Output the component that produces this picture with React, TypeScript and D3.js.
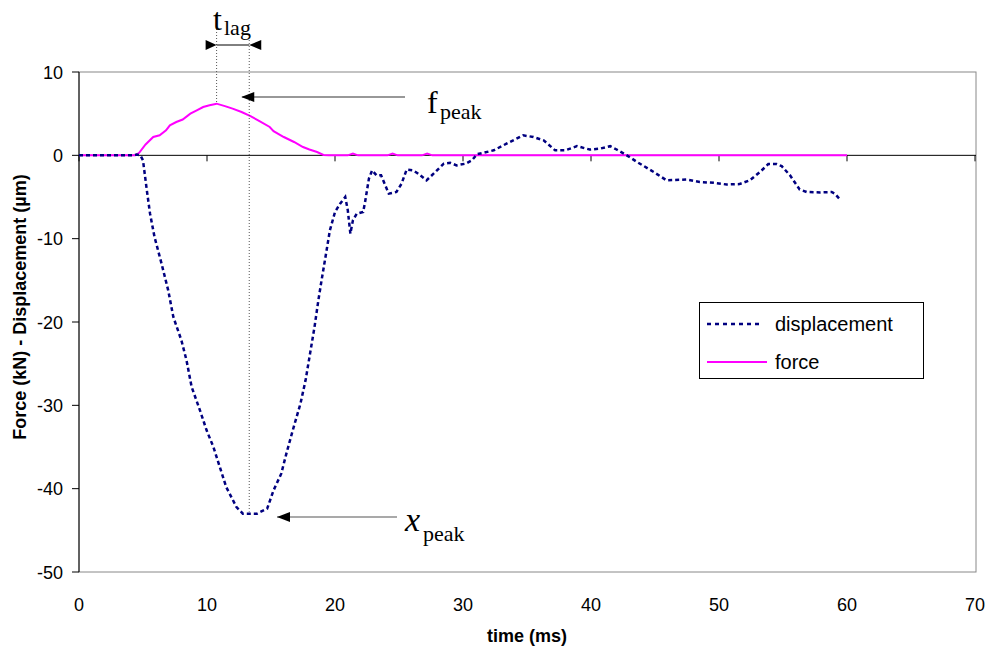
import React from "react";
import * as d3 from "d3";

const xTicks = [0, 10, 20, 30, 40, 50, 60, 70];
const yTicks = [10, 0, -10, -20, -30, -40, -50];

const forceT = [0, 4.4, 4.7, 5.2, 5.8, 6.3, 6.8, 7.1, 7.6, 8.1, 8.7, 9.2, 9.7, 10.2, 10.75, 11.4, 12.0, 12.7, 13.4, 14.1, 14.9, 15.2, 16.0, 16.8, 17.5, 18.0, 18.6, 19.1, 19.5, 21.0, 21.4, 21.8, 24.1, 24.5, 24.9, 26.8, 27.2, 27.6, 60];
const forceV = [0, 0, 0.3, 1.3, 2.2, 2.4, 3.0, 3.6, 4.0, 4.3, 5.0, 5.4, 5.8, 6.0, 6.2, 5.9, 5.6, 5.2, 4.7, 4.1, 3.4, 2.9, 2.2, 1.6, 1.0, 0.7, 0.4, 0.05, 0, 0, 0.2, 0, 0, 0.2, 0, 0, 0.2, 0, 0];

const dispT = [0, 4.2, 4.5, 4.8, 5.0, 5.3, 5.55, 5.9, 6.45, 6.97, 7.37, 8.0, 8.4, 8.8, 9.45, 9.97, 10.5, 11.0, 11.5, 12.3, 12.8, 13.9, 14.7, 15.2, 15.8, 16.2, 16.7, 17.3, 17.7, 18.05, 18.4, 18.7, 18.95, 19.3, 19.6, 20.0, 20.4, 20.8, 21.0, 21.2, 21.4, 21.7, 22.2, 22.35, 22.5, 22.65, 22.9, 23.25, 23.6, 24.2, 24.8, 25.2, 25.6, 26.1, 26.5, 27.15, 27.7, 28.5, 29.0, 29.5, 30.2, 30.7, 31.1, 31.45, 32.4, 33.4, 34.7, 35.5, 36.3, 37.2, 38.0, 38.9, 39.9, 40.7, 41.5, 42.0, 42.8, 43.6, 44.9, 45.9, 47.5, 48.5, 49.6, 50.6, 51.6, 52.4, 53.2, 53.85, 54.5, 54.9, 55.55, 56.3, 56.85, 57.9, 58.8, 59.05, 59.45];
const dispV = [0, 0, 0.1, 0, -0.6, -4.2, -7.0, -9.8, -13.0, -16.2, -19.4, -22.2, -24.6, -27.8, -30.6, -33.0, -35.0, -37.4, -39.8, -42.2, -43.0, -43.0, -42.4, -40.2, -38.2, -35.8, -33.0, -29.8, -27.0, -23.8, -20.6, -17.4, -15.0, -11.8, -9.0, -6.8, -5.8, -5.0, -6.6, -9.4, -7.8, -7.0, -6.8, -5.6, -4.2, -2.8, -1.8, -2.4, -2.4, -4.6, -4.4, -3.4, -1.7, -1.8, -2.2, -3.0, -2.2, -1.0, -0.9, -1.2, -1.0, -0.6, 0.15, 0.25, 0.6, 1.4, 2.4, 2.2, 1.8, 0.6, 0.6, 1.1, 0.7, 0.8, 1.1, 0.7, 0.0, -0.8, -2.0, -3.0, -2.9, -3.2, -3.3, -3.5, -3.45, -3.0, -2.0, -1.05, -1.05, -1.3, -2.4, -4.1, -4.4, -4.45, -4.4, -4.6, -5.3];

const seriesNames = ["displacement", "force"];
const tPeakForce = 10.75;
const tPeakDisp = 13.3;
const fPeak = 6.2;
const xPeak = -43.0;

export default function App() {
  const W = 989, H = 655;
  const x = d3.scaleLinear().domain([0, 70]).range([79, 975]);
  const y = d3.scaleLinear().domain([-50, 10]).range([572, 72]);
  const line = d3.line<[number, number]>().x(d => x(d[0])).y(d => y(d[1]));
  const forceData: [number, number][] = forceT.map((t, i) => [t, forceV[i]]);
  const dispData: [number, number][] = dispT.map((t, i) => [t, dispV[i]]);
  const arial = "Arial, 'Liberation Sans', sans-serif";
  const times = "'Times New Roman', 'Liberation Serif', serif";
  const xf = x(tPeakForce), xd = x(tPeakDisp);
  const yf = y(fPeak), yd = y(xPeak);
  const arrowY = 45;
  return (
    <svg width={W} height={H} style={{ position: "absolute", left: 0, top: 0 }} xmlns="http://www.w3.org/2000/svg">
      <rect x={0} y={0} width={W} height={H} fill="#fff" />
      {/* frame */}
      <rect x={x(0)} y={y(10)} width={x(70) - x(0) + 1} height={y(-50) - y(10)} fill="none" stroke="#888" strokeWidth={1} />
      {/* y axis */}
      <line x1={x(0)} x2={x(0)} y1={y(10)} y2={y(-50)} stroke="#000" strokeWidth={1} />
      {yTicks.map(t => (
        <g key={"y" + t}>
          <line x1={x(0) - 7} x2={x(0)} y1={y(t)} y2={y(t)} stroke="#000" />
          <text x={63} y={y(t) + 6.5} textAnchor="end" fontFamily={arial} fontSize={18}>{t}</text>
        </g>
      ))}
      {/* x axis at zero */}
      <line x1={x(0)} x2={x(70) + 1} y1={y(0)} y2={y(0)} stroke="#000" strokeWidth={1} />
      {xTicks.map(t => (
        <g key={"x" + t}>
          <line x1={x(t)} x2={x(t)} y1={y(0)} y2={y(0) + 6} stroke="#000" />
          <text x={x(t)} y={611} textAnchor="middle" fontFamily={arial} fontSize={18}>{t}</text>
        </g>
      ))}
      <text x={x(35)} y={642} textAnchor="middle" fontFamily={arial} fontSize={18} fontWeight="bold">time (ms)</text>
      <text transform="translate(26,307) rotate(-90)" textAnchor="middle" fontFamily={arial} fontSize={18} fontWeight="bold">Force (kN) - Displacement (µm)</text>

      {/* series */}
      <path d={line(forceData) || ""} fill="none" stroke="#ff00ff" strokeWidth={2} />
      <path d={line(dispData) || ""} fill="none" stroke="#000080" strokeWidth={2.5} strokeDasharray="4 3" />

      {/* dotted guide lines */}
      <line x1={xf} x2={xf} y1={26} y2={yf} stroke="#555" strokeWidth={1} strokeDasharray="1 2" />
      <line x1={xd} x2={xd} y1={34} y2={yd - 2} stroke="#555" strokeWidth={1} strokeDasharray="1 2" />

      {/* t_lag arrow */}
      <line x1={xf} x2={xd} y1={arrowY} y2={arrowY} stroke="#000" strokeWidth={1} />
      <polygon points={`${xf},${arrowY} ${xf - 11},${arrowY - 5} ${xf - 11},${arrowY + 5}`} fill="#000" />
      <polygon points={`${xd},${arrowY} ${xd + 12},${arrowY - 5} ${xd + 12},${arrowY + 5}`} fill="#000" />
      <text x={213} y={30} fontFamily={times} fontSize={32}>t</text>
      <text x={224} y={35} fontFamily={times} fontSize={22}>lag</text>

      {/* f_peak arrow */}
      <line x1={xd - 7} x2={405} y1={97} y2={97} stroke="#333" strokeWidth={1.2} />
      <polygon points={`${xd - 8},97 ${xd + 5},92 ${xd + 5},102`} fill="#000" />
      <text x={427} y={113} fontFamily={times} fontSize={32}>f</text>
      <text x={440} y={119} fontFamily={times} fontSize={22}>peak</text>

      {/* x_peak arrow */}
      <line x1={277} x2={397} y1={517} y2={517} stroke="#555" strokeWidth={1.2} />
      <polygon points={`277,517 290,512 290,522`} fill="#000" />
      <text x={405} y={531} fontFamily={times} fontSize={34} fontStyle="italic">x</text>
      <text x={423} y={541} fontFamily={times} fontSize={22}>peak</text>

      {/* legend */}
      <rect x={699.5} y={302.5} width={224} height={76} fill="#fff" stroke="#000" strokeWidth={1} />
      <line x1={707} x2={762} y1={324} y2={324} stroke="#000080" strokeWidth={2.5} strokeDasharray="4 4" />
      <line x1={707} x2={767} y1={362} y2={362} stroke="#ff00ff" strokeWidth={2} />
      <text x={775} y={331} fontFamily={arial} fontSize={20}>{seriesNames[0]}</text>
      <text x={775} y={369} fontFamily={arial} fontSize={20}>{seriesNames[1]}</text>
    </svg>
  );
}
